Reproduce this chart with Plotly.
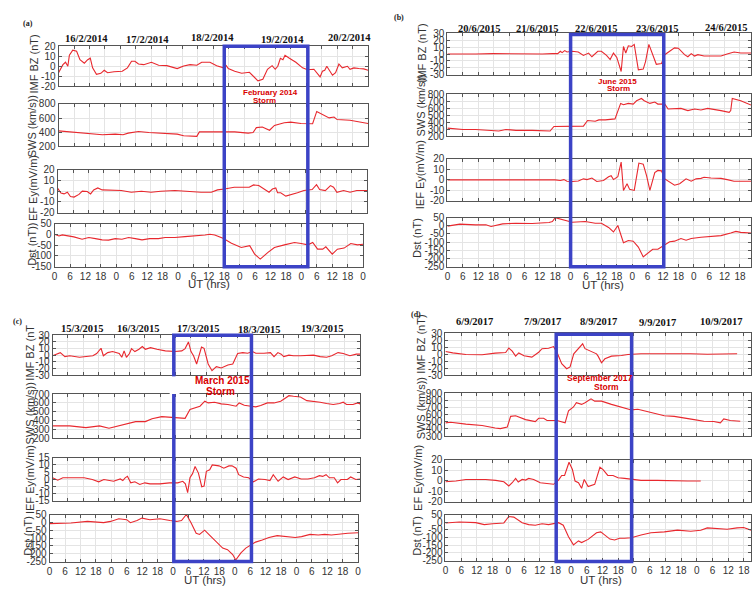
import plotly.graph_objects as go

# ---------------- DATA ----------------
hour_ticks = [0, 6, 12, 18, 24, 30, 36, 42, 48, 54, 60, 66, 72, 78, 84, 90, 96, 102, 108, 114, 120]
hour_tick_labels = ["0", "6", "12", "18"] * 5 + ["0"]

a_dates = ["16/2/2014", "17/2/2014", "18/2/2014", "19/2/2014", "20/2/2014"]
b_dates = ["20/6/2015", "21/6/2015", "22/6/2015", "23/6/2015", "24/6/2015"]
c_dates = ["15/3/2015", "16/3/2015", "17/3/2015", "18/3/2015", "19/3/2015"]
d_dates = ["6/9/2017", "7/9/2017", "8/9/2017", "9/9/2017", "10/9/2017"]

storm_names = [["February 2014", "Storm"], ["June 2015", "Storm"], ["March 2015", "Storm"], ["September 2017", "Storm"]]
storm_hours = [[66, 98.5], [48, 84.3], [48.3, 78.5], [42.3, 71.1]]

titles_a = ["IMF BZ (nT)", "SWS (km/s))", "EF Ey(mV/m)", "Dst (nT))"]
titles_b = ["IMF BZ (nT)", "SWS (km/s))", "IEF Ey(mV/m)", "Dst (nT)"]
titles_c = ["IMF BZ (nT", "SWS (km/s))", "IEF Ey(mV/m)", "Dst (nT)"]
titles_d = ["IMF BZ (nT)", "SWS (km/s))", "EF Ey(mV/m)", "Dst (nT)"]

yt_bz20 = [-20, -10, 0, 10, 20]
yt_bz30 = [-30, -20, -10, 0, 10, 20, 30]
yt_sws_a = [200, 400, 600, 800]
yt_sws_b = [200, 300, 400, 500, 600, 700, 800]
yt_sws_c = [200, 300, 400, 500, 600, 700]
yt_sws_d = [300, 400, 500, 600, 700, 800, 900]
yt_ef20 = [-20, -10, 0, 10, 20]
yt_ef15 = [-15, -10, -5, 0, 5, 10, 15]
yt_dst_a = [-150, -100, -50, 0, 50]
yt_dst = [-250, -200, -150, -100, -50, 0, 50]

# Panel (a) February 2014
a_bz_h = [0,1.7,2.7,3.6,4.2,5.5,7,8.3,10,11.3,12.3,13.2,14.7,16.4,17.7,19,21.5,24.7,26.7,28.3,29.6,31,33,36,38.8,42,46,48.5,51,53.6,55.5,58.7,61.3,64,65,65.8,68.3,71,74,75.4,77.3,79.2,81,82.8,84,85,86,87,87.8,89.5,92,94.6,96.5,99,100.4,101.4,102.3,103.2,104,106.2,107.4,108.7,110,112,113,114.5,116.4,118.3,120]
a_bz_v = [-6.5,1.6,4,0,11,16,15,6.5,3,6.5,8,-1.6,-8,-7,-4,-6.5,-5.5,-5,-1.6,5,5,2.3,1.6,4,1,0.6,-2.3,0.3,1.6,1,4,4,0.6,-1.6,0.6,-2.3,-5,-7,-6,-10,-14.5,-13,-3,0.6,-3,0,8,6.5,11,8,4,-1.6,-3.5,-3,-8,-10.6,-5,-4,0,-9,-6.5,2.3,-1.6,0,-3,-1.6,-2.3,-2.6,-4]
a_sws_h = [0,4,10,17,22,25,27,31,35,40.5,46,48.5,53.6,54.6,60.6,68.3,73.5,75.4,76.7,79,81.8,83.7,87.5,90,94,98.5,100.1,102.3,104.9,106.8,108,113,116.4,120]
a_sws_v = [417,403,380,362,371,362,385,408,394,380,371,348,339,403,403,403,385,394,463,472,426,495,532,542,523,519,694,648,602,615,578,569,546,523]
a_ef_h = [0,1.3,2.5,3.8,5,6.4,8.3,9.6,11.5,12.8,14,15.6,17.3,21,24.7,28.6,32.5,36.3,40,45.5,50.6,55.6,59.6,62,64.7,68.5,74.3,76,78,80,82,83.3,84.6,85.3,86.5,88.5,90.5,93,95.5,97.4,98.7,100.4,101.6,103.8,105.8,107,108.3,110.9,113.4,116,120]
a_ef_v = [2.8,-1.8,-2.5,-1,-5,-5.5,-3,0,-0.3,-2.5,1.2,3,1.2,1.2,0.6,-1,0,-1,0,0.6,-0.3,-1,-1,1.2,2,3.7,3.7,5.8,5.2,2,-1,2,3,-1.5,-1.5,-4.6,-3.4,-1.5,0.6,1.5,1.5,6,1.5,0.6,5.2,3.7,-1,0.6,-1,0.6,0.6]
a_dst_h = [0,1.7,3,5.5,7.5,10.7,13.3,15.9,18.5,21,23.6,26.2,28.8,31.4,34,37,40.4,43,46.8,50.7,54.6,58.5,60.4,62.3,65.5,68.8,72.6,75.9,77.8,80,83,85.5,89.4,93.3,95.9,98.5,100.4,102.3,104.3,105.5,108,110,112.6,115.2,117.8,120]
a_dst_v = [0,-8,-3,-8,-12,-23,-15,-20,-26,-27,-20,-23,-15,-20,-26,-20,-20,-15,-15,-11,-8,-3,0,-3,-18,-41,-61,-53,-92,-115,-84,-61,-49,-38,-43,-49,-38,-69,-69,-58,-92,-69,-64,-43,-49,-46]

# Panel (b) June 2015
b_bz_h = [0,6,11,17.7,24,30.5,37,40.9,43,44,44.7,45.7,46.6,48.6,51,53,55,56.3,58.6,60,62,63.4,64.7,66,67.7,68.6,69.5,70.5,71.8,72.8,74.4,76.3,77.2,78.5,80,81.4,83.4,84.7,86.6,88.5,90,92.4,93.7,95,96.3,97.6,100,106.6,109,111.7,114.3,118.3]
b_bz_v = [0,-0.5,0,0.5,0,-0.5,0,0.5,0.5,4,2,5,3,4,3,-2,1.4,-4,4,4,-2,-8,1.4,-5,-25.5,11,1.4,12,11,14,-23,-22,-11,14,-2,-15,-14,-1,4,9,8.5,-1,-4,0.5,-3,-1,-3,-3,0,3,1.4,1.4]
b_sws_h = [0,6,11,17.7,20,22.8,26.7,33,37,40,41.5,47.3,53,54.6,57.6,59,61.5,65.3,66.6,67.5,68.6,70.5,72.4,73.7,75.6,76.7,78.9,80.8,82,84.7,86,91,93.7,96.3,98.8,101.4,106.6,109.8,110.4,111,114.3,118.3]
b_sws_v = [317,298,298,284,275,298,284,284,275,275,340,340,345,425,415,434,434,448,566,669,650,669,659,706,739,706,669,688,659,659,589,598,566,589,575,598,566,542,566,739,706,645]
b_ef_h = [0,11,24,37,42,44,45.4,46.6,48.6,51,53,54.4,56.3,58.2,60.8,62.8,63.8,64.7,66.4,67.7,68.6,70,71,72.8,74.6,76.3,77.6,78.9,80.8,82,83.4,84.7,86.6,88.5,90.5,93,95,96.9,98.8,100,102.7,106.6,109,111.7,118.3]
b_ef_v = [0,0,0,0.3,0,-0.6,0.3,-1.2,-1.5,-1,1,0.3,1.8,-1.5,-0.6,3,4,0.3,3,17,-10,-3.7,-9,-10,16,15,4,-10,7,9,8.6,1,-2,-5,-3.7,1,-1.2,1,1.5,2.5,1.8,1.5,0.3,-1.2,-1.2]
b_dst_h = [0,4.8,11,15,17,21.5,26.7,33,39.6,40.9,42,44,46.6,48.6,53.7,57.6,60,62.8,64.7,66.4,68.6,70.5,72.4,74.4,76.3,78.2,80,82,84.7,86.6,88.5,91,93,95,98.8,102.7,106.6,110.4,112.4,114.3,118.3]
b_dst_v = [-2,10,6,6,-4,12,16,14,20,26,50,42,30,22,26,16,16,-10,-38,2,-104,-90,-94,-130,-190,-164,-144,-144,-118,-98,-94,-78,-88,-78,-70,-64,-60,-44,-34,-40,-44]

# Panel (c) March 2015
c_bz_h = [0,2.2,3,4.8,6.7,10.5,13,15.7,17.2,18.3,18.9,19.8,21.5,23.4,26,27,27.9,28.8,30,30.8,32.1,33.7,35,36.2,38.2,40.7,44,47.8,50.4,51.7,53,54,55,56.2,57,58.1,59.1,60.7,62.2,63.9,65.8,68.4,70.3,72.2,74.2,76.1,78,79.3,82.5,85,86.4,87.9,89.2,90.2,92.2,94,96.7,99.2,101.8,104.4,106.9,108.9,111.4,113.4,116,118.5,120]
c_bz_v = [-0.7,2.7,4,-2,-0.7,-3,-2,-0.7,2.7,7.5,10.5,-0.7,4,5.6,2.7,-3,6.6,-3,2.7,10,5.6,9,13,9,11.5,9,6.6,5.6,6.6,10,20,5.6,-0.7,-13,-3,12.4,10.5,-13,-23,-17,-19,-14.4,-13,2.7,4,3,5.6,3,3,4,-2,4,1.7,-2,0.2,-0.7,-0.7,0.2,0.2,-2,-3,-0.7,4,2.7,-0.7,1.7,1.7]
c_sws_h = [0,6.7,13,18.3,22,24.7,28.5,32.4,36.2,38.8,42.6,45.2,49.7,51.7,53.6,55.5,57.5,59.4,60.7,63.2,65.8,68.4,71.6,72.8,74.8,77.4,79.3,81.2,83.8,86.4,89,90.9,92.2,94,96.7,99.2,101.8,104.4,106.9,109.5,112,113.4,114.7,117.2,119,120]
c_sws_v = [338,338,319,338,312,331,364,387,387,420,443,439,431,424,525,543,562,618,599,607,588,581,562,599,573,562,554,569,599,599,618,655,681,674,666,625,618,607,592,581,592,607,581,581,599,588]
c_ef_h = [0,2,4,8.5,12.3,15.5,18,20,23.8,26.4,27.4,28.3,29.2,30.5,32.1,34,36,38,41.8,45.6,48.8,50.8,51.8,52.7,53.6,54.6,55.6,56.9,58.2,59.1,60,61.3,62.3,64.9,66.8,68.8,70,71.6,72.6,74.5,76.5,78.4,80.3,82.9,84.8,86.1,88,90,91.9,94.5,97,99.6,102.2,104.1,105.4,106.7,108,109.9,111.2,112.5,115,116.3,118.3,120]
c_ef_v = [1,-0.7,1,1,1,-0.2,-1.8,-0.2,-1.4,0.2,-0.9,1,2,-2.5,-1.8,-3.6,-2.5,-3.2,-3.2,-2.5,-2.5,-1.4,-3.2,-9.3,1,3.9,8.9,4.3,-5.2,-4.8,5.5,6.6,10,9.3,7.7,9.3,9.3,7.7,3.2,1.6,1,-1.8,0.2,-0.2,-0.9,3.2,-1.4,1.6,-0.2,1.6,0.2,0.2,1,2.5,2,3.2,1,1,-2.5,-0.2,-0.2,1.6,-0.2,0.2]
c_dst_h = [0,8.3,14.7,21,23.7,26.9,30,31.4,34,35.9,39,42.9,46.8,49.4,51.3,53.2,55,57,58.3,60.3,62.2,64.7,67.3,69.2,71.2,72.4,74.4,76.3,78.2,80.1,82.7,85.3,88.5,91.7,95.5,98,101.3,104.5,107,109.6,112.2,116,120]
c_dst_v = [-8,-4,6,-2,6,23,17,-2,12,27,17,23,12,6,12,50,-2,-70,-77,-50,-81,-122,-164,-174,-205,-240,-195,-164,-143,-126,-112,-97,-85,-91,-97,-91,-77,-81,-77,-81,-75,-70,-66]

# Panel (d) September 2017
d_bz_h = [0,2.8,7.8,14,19,23,24.2,25.5,26.8,28,30,33,35.6,36.9,39.4,41.3,42.6,44.4,46.3,47.6,49,51,52.4,53.3,55.2,57.7,58.3,59.6,60.9,63.4,67.2,69.7,74.7,81,87.4,93.7,100,106.3,111.4]
d_bz_v = [4,2,-0.2,-0.7,1.7,2.6,9,4.5,-2.6,2,-2,-4,3,8,8.7,11,3,-13.4,-20.5,-18,0.7,9,15,8,4.5,0.7,-2.6,-12,-6.4,-2.6,-1.7,-0.2,0.7,0.7,1.7,0.7,0.2,0.7,0.7]
d_sws_h = [0,2,7.8,14,19,21,23.6,24.9,26.8,30.6,34.3,35.6,37.5,38.8,42.6,45.7,47,48.9,50,52,53.3,55.6,57,59.6,63.4,67.2,71,73.5,76,79.8,83.6,87.4,91.2,95,98.7,102.5,105,106.3,108.8,112.6]
d_sws_v = [485,494,467,449,413,404,426,575,584,530,503,548,548,517,517,485,652,706,765,742,765,819,787,787,742,706,665,674,652,616,584,575,548,530,508,503,485,539,517,508]
d_ef_h = [0,4,7.8,15.4,19.2,22.3,24.2,25.5,26.8,27.8,29.3,30.6,31.8,33.7,36.2,38.8,41.3,43.2,44.4,45.5,47.2,48.5,49.5,50.8,52,53,54.5,57,59,60.2,62,64,65.9,68.4,71,74.7,81,87.4,92.4,97.5]
d_ef_v = [-1,-0.3,1.2,1.2,0.3,-1,-5,-1.9,2.2,-1.2,1.2,0.6,2.2,1.2,-1.9,-2.8,-3.4,0.6,5,5,17.5,10.6,-0.3,-1.9,-7.2,1.2,-5.6,-3.4,12.8,10.6,5,5,2.8,2.2,1.2,0.3,0.3,-0.3,-0.3,-0.3]
d_dst_h = [0,5.3,11.6,14.8,18,22.3,24.2,26.1,29.3,31.8,34.3,36.9,39.4,43.2,45,47,48.9,50.8,52,54.5,57.7,59.3,60.9,62.8,64.6,66.5,68.4,71,74.7,78.5,83.6,88.6,93.7,97.5,100,103.8,107.6,111.4,113.9,116.7]
d_dst_v = [-5,1,-3,-16,-10,-5,37,33,-3,-16,-20,-10,-16,-3,-20,-95,-148,-122,-133,-112,-69,-63,-84,-110,-116,-105,-105,-101,-84,-69,-63,-52,-59,-52,-37,-41,-46,-37,-35,-52]

# ---------------- LAYOUT HELPERS ----------------
W, H = 754, 594
def px(x):
    return x / W
def py(y):
    return 1 - y / H

RED = "#e8282e"
BLUE = "#3c43c6"
TXT = "#333333"
SANS = "Liberation Sans"
SERIF = "Liberation Serif"

panels = [
    dict(label="(a)", label_pos=(25, 18), dates=a_dates,
         date_pos=[(84, 33), (146, 34), (211, 32), (282, 34), (349, 32)],
         boxes=[(56, 368, 41, 82), (56, 368, 100, 143), (55, 367, 167, 211), (52, 363, 222, 266)],
         xmax=120,
         series=[(a_bz_h, a_bz_v), (a_sws_h, a_sws_v), (a_ef_h, a_ef_v), (a_dst_h, a_dst_v)],
         yticks=[yt_bz20, yt_sws_a, yt_ef20, yt_dst_a],
         titles=titles_a, title_pos=[(31, 59), (29, 123), (30, 186), (29, 243)],
         ut_pos=(208, 284), box_y=(41, 266),
         storm_pos=[(270, 88), (264, 96)], storm_size=8),
    dict(label="(b)", label_pos=(399, 12), dates=b_dates,
         date_pos=[(480, 23), (539, 23), (598, 23), (660, 23), (729, 22)],
         boxes=[(448, 754, 28, 70), (448, 754, 90, 133), (448, 754, 156, 199), (448, 754, 216, 266)],
         xmax=118.3,
         series=[(b_bz_h, b_bz_v), (b_sws_h, b_sws_v), (b_ef_h, b_ef_v), (b_dst_h, b_dst_v)],
         yticks=[yt_bz30, yt_sws_b, yt_ef20, yt_dst],
         titles=titles_b, title_pos=[(422, 48), (421, 102), (420, 172), (418, 237)],
         ut_pos=(605, 285), box_y=(29, 266),
         storm_pos=[(619, 77), (620, 84)], storm_size=8),
    dict(label="(c)", label_pos=(15, 322), dates=c_dates,
         date_pos=[(80, 329), (137, 329), (197, 329), (259, 330), (322, 329)],
         boxes=[(50, 360, 336, 377), (50, 360, 396, 441), (50, 360, 461, 505), (47, 358, 519, 567)],
         xmax=120,
         series=[(c_bz_h, c_bz_v), (c_sws_h, c_sws_v), (c_ef_h, c_ef_v), (c_dst_h, c_dst_v)],
         yticks=[yt_bz30, yt_sws_c, yt_ef15, yt_dst],
         titles=titles_c, title_pos=[(27, 354), (27, 416), (27, 483), (25, 541)],
         ut_pos=(204, 586), box_y=(336, 567),
         storm_pos=[(221, 382), (219, 393)], storm_size=10),
    dict(label="(d)", label_pos=(416, 315), dates=d_dates,
         date_pos=[(475, 322), (544, 322), (600, 322), (660, 323), (724, 322)],
         boxes=[(446, 754, 334, 377), (446, 754, 395, 439), (446, 754, 463, 506), (446, 754, 519, 566)],
         xmax=116.7,
         series=[(d_bz_h, d_bz_v), (d_sws_h, d_sws_v), (d_ef_h, d_ef_v), (d_dst_h, d_dst_v)],
         yticks=[yt_bz30, yt_sws_d, yt_ef20, yt_dst],
         titles=titles_d, title_pos=[(421, 345), (421, 411), (419, 482), (417, 541)],
         ut_pos=(603, 586), box_y=(335, 567),
         storm_pos=[(601, 380), (608, 389)], storm_size=8.5),
]

fig = go.Figure()
layout = dict(width=W, height=H, margin=dict(l=0, r=0, t=0, b=0),
              paper_bgcolor="white", plot_bgcolor="white", showlegend=False)
annotations = []
shapes = []

def ann(text, x, y, size, color=TXT, family=SANS, angle=0, **kw):
    d = dict(text=text, x=px(x), y=py(y), xref="paper", yref="paper",
             showarrow=False, xanchor="center", yanchor="middle",
             font=dict(family=family, size=size, color=color), textangle=angle)
    d.update(kw)
    annotations.append(d)

n = 0
for p, P in enumerate(panels):
    for s in range(4):
        n += 1
        xl, xr, yt, yb = P["boxes"][s]
        hs, vs = P["series"][s]
        fig.add_trace(go.Scatter(x=hs, y=vs, mode="lines",
                                 line=dict(color=RED, width=1.1),
                                 xaxis="x%d" % n, yaxis="y%d" % n,
                                 hoverinfo="skip"))
        yt_list = P["yticks"][s]
        layout["xaxis%d" % n] = dict(
            domain=[px(xl), min(px(xr), 1.0)], anchor="y%d" % n,
            range=[0, P["xmax"]], tickmode="array", tickvals=hour_ticks,
            ticktext=hour_tick_labels, showticklabels=(s == 3),
            showgrid=True, gridcolor="#e4e4e4", gridwidth=1,
            showline=True, linecolor="#555", linewidth=1, mirror="allticks",
            ticks="inside", ticklen=3, tickcolor="#555", zeroline=False,
            tickfont=dict(family=SANS, size=10, color=TXT), fixedrange=True)
        layout["yaxis%d" % n] = dict(
            domain=[py(yb), py(yt)], anchor="x%d" % n,
            range=[yt_list[0], yt_list[-1]], tickmode="array", tickvals=yt_list,
            ticktext=[str(v) for v in yt_list],
            showgrid=True, gridcolor="#e4e4e4", gridwidth=1,
            showline=True, linecolor="#555", linewidth=1, mirror="allticks",
            ticks="inside", ticklen=3, tickcolor="#555", zeroline=False,
            tickfont=dict(family=SANS, size=10, color=TXT), fixedrange=True)
        tx, ty = P["title_pos"][s]
        ann(P["titles"][s], tx, ty, 11, angle=-90)
    dst_axis = "x%d" % n
    lx, ly = P["label_pos"]
    ann("<b>%s</b>" % P["label"], lx, ly, 8, color="#222", family=SERIF)
    for txt, (dx, dy) in zip(P["dates"], P["date_pos"]):
        ann("<b>%s</b>" % txt, dx, dy, 10.5, color="#111", family=SERIF)
    ux, uy = P["ut_pos"]
    ann("UT (hrs)", ux, uy, 11.5)
    h0, h1 = storm_hours[p]
    by0, by1 = P["box_y"]
    shapes.append(dict(type="rect", xref=dst_axis, yref="paper",
                       x0=h0, x1=h1, y0=py(by1), y1=py(by0),
                       line=dict(color=BLUE, width=3.5), fillcolor="rgba(0,0,0,0)",
                       layer="above"))
    (s1x, s1y), (s2x, s2y) = P["storm_pos"]
    ann("<b>%s</b>" % storm_names[p][0], s1x, s1y, P["storm_size"], color="#d80000")
    ann("<b>%s</b>" % storm_names[p][1], s2x, s2y, P["storm_size"], color="#d80000")

# white gap in panel (c) box near label
shapes.append(dict(type="rect", xref="paper", yref="paper",
                   x0=px(168), x1=px(178), y0=py(396), y1=py(378),
                   line=dict(width=0), fillcolor="white", layer="above"))

layout["annotations"] = annotations
layout["shapes"] = shapes
fig.update_layout(**layout)
fig.write_html("out.html", config={"displayModeBar": False},
               post_script="document.body.style.margin='0';document.body.style.overflow='hidden';")
